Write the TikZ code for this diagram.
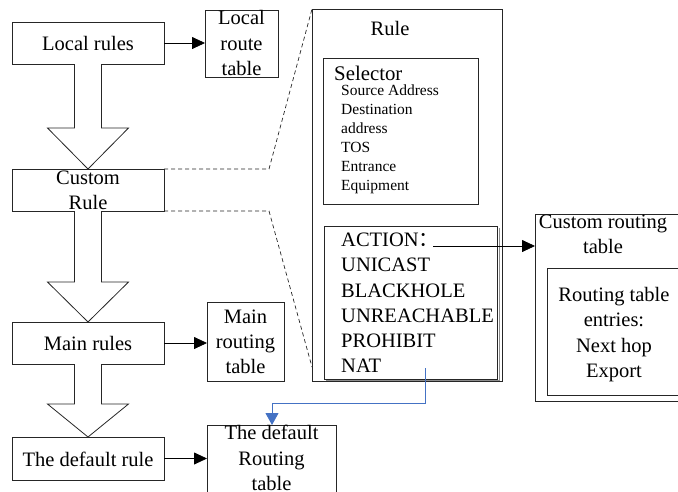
\documentclass[tikz,border=0pt]{standalone}
\usepackage{fontspec}
\setmainfont{Liberation Serif}
\newfontfamily\cjk{Noto Sans CJK SC}
\usetikzlibrary{arrows.meta,calc}
\definecolor{linkblue}{RGB}{68,114,196}
\newcommand\hollowarrow[3]{\draw[blk] let \p1=(#1.south), \p2=(#2.north) in
  (\x1-13.5pt,\y1) -- (\x1-13.5pt,\y2+#3) -- (\x1-40.5pt,\y2+#3) -- (\x1,\y2)
  -- (\x1+40.5pt,\y2+#3) -- (\x1+13.5pt,\y2+#3) -- (\x1+13.5pt,\y1);}
\begin{document}
\begin{tikzpicture}[x=1pt,y=-1pt,
  bx/.style={draw=black!85, line width=0.8pt, inner sep=0pt, outer sep=0pt},
  big/.style={font=\fontsize{20.5}{25.2}\selectfont, align=center, inner sep=0pt},
  bigl/.style={font=\fontsize{20.5}{25.2}\selectfont, align=left, inner sep=0pt, anchor=west},
  small/.style={font=\fontsize{15.5}{18.9}\selectfont, align=left, inner sep=0pt, anchor=west},
  arr/.style={-{Triangle[length=13pt,width=12pt]}, line width=0.8pt, draw=black},
  blk/.style={draw=black!85, line width=0.8pt, fill=white, line join=miter},
  dsh/.style={dash pattern=on 4pt off 3pt, line width=0.7pt, draw=black!85},
  blu/.style={draw=linkblue, line width=0.8pt, -{Triangle[length=12pt,width=13pt]}}
]
\useasboundingbox (0,0) rectangle (678,491);
% left column boxes
\node[bx, minimum width=152pt, minimum height=42pt] (lr) at (88,43) {};
\node[bx, minimum width=73pt, minimum height=67pt] (lrt) at (241.5,43.5) {};
\node[bx, minimum width=152pt, minimum height=42pt] (cr) at (88,190) {};
\node[bx, minimum width=152pt, minimum height=42pt] (mr) at (88,343) {};
\node[bx, minimum width=77pt, minimum height=79pt] (mrt) at (245.5,341.5) {};
\node[bx, minimum width=152pt, minimum height=43pt] (dr) at (88,458.5) {};
\node[bx, minimum width=129pt, minimum height=80pt] (drt) at (271.5,465) {};
% texts
\node[big] (lrtx) at (88,43) {Local rules};
\node[big] (lrttx) at (241.5,43) {Local\\route\\table};
\node[big] (crtx) at (88,190) {Custom\\Rule};
\node[big] (mrtx) at (88,343) {Main rules};
\node[big] (mrttx) at (245.5,342) {Main\\routing\\table};
\node[big] (drtx) at (88,459) {The default rule};
\node[big] (drttx) at (271.5,458) {The default\\Routing\\table};
% hollow arrows
\hollowarrow{lr}{cr}{41pt}
\hollowarrow{cr}{mr}{40pt}
\hollowarrow{mr}{dr}{33pt}
% small arrows
\draw[arr] (lr.east) -- (lr.east -| lrt.west);
\draw[arr] (mr.east) -- (mr.east -| mrt.west);
\draw[arr] (dr.east) -- (dr.east -| drt.west);
% rule box
\node[bx, minimum width=190pt, minimum height=372pt] (rule) at (407,195) {};
\node[big] (ruletx) at (390,28) {Rule};
\node[bx, minimum width=155pt, minimum height=146pt] (sel) at (400.5,131) {};
\node[font=\fontsize{20.8}{25}\selectfont, inner sep=0pt, anchor=west] (seltx) at (334,73) {Selector};
\node[small] (seltxt) at (341,139.5) {Source Address\\Destination\\address\\TOS\\Entrance\\Equipment};
\draw[black!45, line width=0.6pt] (499,228) -- (499,380.5) -- (326,380.5);
\node[bx, minimum width=173pt, minimum height=153pt] (act) at (410.5,302.5) {};
\node[bigl] (acttx) at (341,303) {ACTION{\cjk ：}\\UNICAST\\BLACKHOLE\\UNREACHABLE\\PROHIBIT\\NAT};
% custom routing table
\node[bx, minimum width=160pt, minimum height=187pt] (crt) at (615,307.5) {};
\node[big] (crttx) at (603,234) {Custom routing\\table};
\node[bx, minimum width=143pt, minimum height=127pt] (ent) at (618.5,331.5) {};
\node[big] (enttx) at (614,334.5) {Routing table\\entries:\\Next hop\\Export};
% connectors
\coordinate (actstart) at (433,246);
\draw[arr] (actstart) -- (actstart -| crt.west);
\coordinate (ctop) at (269,169);
\coordinate (cbot) at (269,211);
\draw[dsh] (cr.north east) -- (ctop) -- (rule.north west);
\draw[dsh] (cr.south east) -- (cbot) -- ($(rule.south west)+(0,-14)$);
\coordinate (natc) at (425,368);
\coordinate (bend) at (272,403);
\draw[blu] (natc) |- (bend) -- (bend |- drt.north);
\end{tikzpicture}
\end{document}
